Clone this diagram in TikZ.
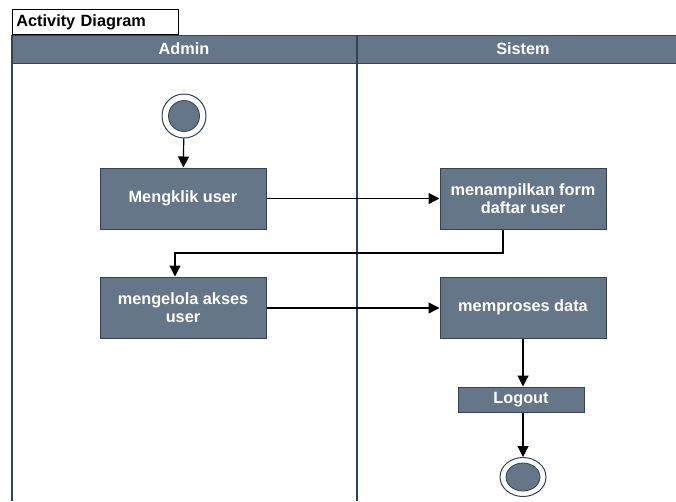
\documentclass[tikz,border=0pt]{standalone}
\usepackage{fontspec}
\setmainfont{Liberation Sans}
\usetikzlibrary{arrows.meta,shapes.geometric}
\definecolor{actfill}{HTML}{647687}
\definecolor{actline}{HTML}{314354}
\tikzset{
  x=1pt, y=-1pt,
  lbl/.style={font=\fontsize{16.3}{18.5}\selectfont\bfseries},
  act/.style={lbl, draw=actline, fill=actfill, line width=1pt, text=white,
    align=center, minimum width=166pt, minimum height=61pt, inner sep=2pt},
  smallact/.style={act, minimum width=126pt, minimum height=25pt},
  flow/.style={draw=black, line width=1.2pt, -{Triangle[length=11pt,width=11pt]}},
  lanebar/.style={draw=actline, line width=2pt},
  startnode/.style={circle, draw=actline, fill=white, line width=1pt,
    minimum size=44pt, inner sep=0pt},
  endnode/.style={ellipse, draw=actline, fill=white, line width=1pt,
    minimum width=46pt, minimum height=39pt, inner sep=0pt},
}
\begin{document}
\begin{tikzpicture}
\useasboundingbox (0,0) rectangle (676,501);
\fill[white] (0,0) rectangle (676,501);
% frame tab
\node[lbl, draw=black, line width=0.8pt, fill=white, anchor=south west,
  minimum width=166pt, minimum height=25pt, inner sep=3pt,
  text width=158pt, align=left]
  (tab) at (12,35) {Activity Diagram};
% lane headers
\fill[actfill] (12,35) rectangle (676,63);
\draw[actline, line width=1pt] (12,35) -- (676,35);
\draw[actline, line width=1pt] (12,63) -- (676,63);
\node[lbl, text=white] (admin) at (184,49) {Admin};
\node[lbl, text=white] (sistem) at (523,49) {Sistem};
% lane borders
\draw[actline, line width=1.5pt] (12,35) -- (12,501);
\draw[lanebar] (357,35) -- (357,501);
% start node
\node[startnode] (start) at (184,116) {};
\fill[actfill, draw=actline, line width=0.8pt] (start) circle (15.5pt);
% activities
\node[act] (klik) at (183,198.5) {Mengklik user};
\node[act] (form) at (523,198.5) {menampilkan form\\daftar user};
\node[act] (kelola) at (183,307.5) {mengelola akses\\user};
\node[act] (proses) at (523,307.5) {memproses data};
\node[smallact] (logout) at (521,399.5) {Logout};
% end node
\node[endnode] (end) at (523,477) {};
\fill[actfill, draw=actline, line width=0.8pt] (end) ellipse (17pt and 14pt);
% flows
\draw[flow] (start) -- (klik);
\draw[flow] (klik) -- (form);
\draw[flow] (form.south -| 503,0) |- (175,253) -- (kelola.north -| 175,0);
\draw[flow] (kelola.east |- 0,308) -- (proses.west |- 0,308);
\draw[flow] (proses.south -| 523,0) -- (logout.north -| 523,0);
\draw[flow] (logout.south -| 523,0) -- (end);
\end{tikzpicture}
\end{document}
